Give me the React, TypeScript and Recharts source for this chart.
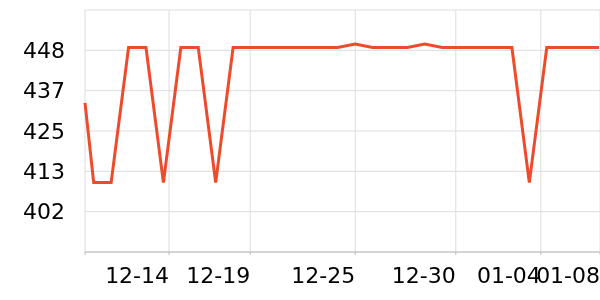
import { CartesianGrid, Line, LineChart, XAxis, YAxis } from "recharts";

// position along the x axis, in day steps (first sample sits half a step before the rest)
const dayIndex = [-0.5, 0, 1, 2, 3, 4, 5, 6, 7, 8, 9, 10, 11, 12, 13, 14, 15, 16, 17, 18, 19, 20, 21, 22, 23, 24, 25, 26, 27, 28, 29];
const values = [433, 410, 410, 449, 449, 410, 449, 449, 410, 449, 449, 449, 449, 449, 449, 449, 450, 449, 449, 449, 450, 449, 449, 449, 449, 449, 410, 449, 449, 449, 449];

const xTicks = [-0.5, 4.325, 8.98, 15.01, 20.78, 25.66, 29.06];
const xLabels = ["", "12-14", "12-19", "12-25", "12-30", "01-04", "01-08"];

const yTicks = [401.6, 413.25, 424.9, 436.55, 448.2];

const data = dayIndex.map((x, i) => ({ x, value: values[i] }));

export default function App() {
  return (
    <div style={{ fontFamily: "DejaVu Sans", position: "fixed", top: 8, left: 8 }}>
      <LineChart
        width={600}
        height={284}
        data={data}
        margin={{ top: 2, right: 2, left: 0, bottom: 0 }}
      >
        <CartesianGrid stroke="#ddd"/>
        <XAxis
          dataKey="x"
          type="number"
          domain={[-0.5, 29.4]}
          ticks={xTicks}
          interval={0}
          height={40}
          tickSize={3}
          tickMargin={12}
          stroke="#bbb"
          tick={{ fill: "#000", fontSize: 22, textAnchor: "end" }}
          tickFormatter={(v) => xLabels[xTicks.indexOf(v)] ?? ""}
        />
        <YAxis
          type="number"
          domain={[389.95, 459.85]}
          ticks={yTicks}
          interval={0}
          width={77}
          axisLine={false}
          tickLine={false}
          tickSize={0}
          tickMargin={20}
          tick={{ fill: "#000", fontSize: 22 }}
          tickFormatter={(v) => String(Math.round(v))}
        />
        <Line
          type="linear"
          dataKey="value"
          stroke="#ee4b2b"
          strokeWidth={3}
          dot={false}
          isAnimationActive={false}
        />
      </LineChart>
    </div>
  );
}
